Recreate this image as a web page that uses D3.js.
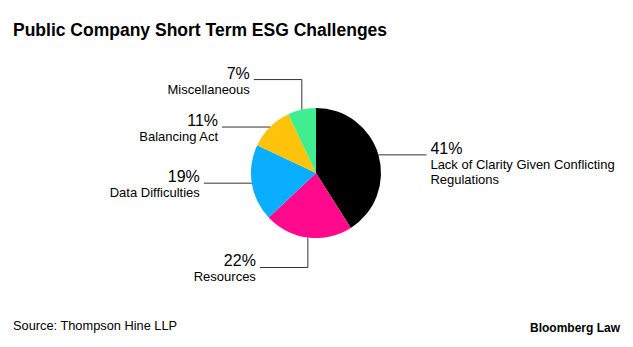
<!DOCTYPE html>
<html>
<head>
<meta charset="utf-8">
<script src="https://cdn.jsdelivr.net/npm/d3@7"></script>
<style>
  body { margin: 0; background: #fff; }
  text { font-family: "Liberation Sans", Arial, sans-serif; fill: #000; }
</style>
</head>
<body>
<div id="chart"></div>
<script>
(function(){

var categories = ["Lack of Clarity Given Conflicting Regulations", "Resources", "Data Difficulties", "Balancing Act", "Miscellaneous"];
var values = [41, 22, 19, 11, 7];
var colors = ["#000000", "#ff0a8c", "#0aaeff", "#ffc30b", "#3fee8f"];

var width = 633, height = 347;
var cx = 316, cy = 173, radius = 65;
var lineLen = 48, vertLen = 30;

var svg = d3.select("#chart").append("svg")
    .attr("width", width)
    .attr("height", height);

svg.append("text")
    .attr("x", 13)
    .attr("y", 36)
    .style("font-size", "17.5px")
    .style("font-weight", "bold")
    .text("Public Company Short Term ESG Challenges");

var data = categories.map(function(c, i) { return {name: c, value: values[i], color: colors[i]}; });

var pie = d3.pie().sort(null).value(function(d) { return d.value; });
var arc = d3.arc().innerRadius(0).outerRadius(radius);

var g = svg.append("g").attr("transform", "translate(" + cx + "," + cy + ")");

var arcs = pie(data);

g.selectAll("path.slice")
    .data(arcs)
  .enter().append("path")
    .attr("class", "slice")
    .attr("d", arc)
    .style("fill", function(d) { return d.data.color; });

// leader lines + labels
arcs.forEach(function(d) {
  var mid = (d.startAngle + d.endAngle) / 2;
  var px = radius * Math.sin(mid), py = -radius * Math.cos(mid);
  var pts = [[px, py]];
  var ly = py;
  // slices near the top or bottom get a vertical stub first
  if (Math.abs(Math.cos(mid)) > 0.9) {
    ly = py + (py < 0 ? -vertLen : vertLen);
    pts.push([px, ly]);
  }
  var right = px > 0;
  var ex = right ? px + lineLen : px - lineLen;
  pts.push([ex, ly]);

  g.append("path")
      .attr("d", d3.line()(pts))
      .style("fill", "none")
      .style("stroke", "#333")
      .style("stroke-width", 1);

  var tx = right ? ex + 4 : ex - 4;
  var anchor = right ? "start" : "end";

  g.append("text")
      .attr("x", tx)
      .attr("y", ly - 1)
      .attr("text-anchor", anchor)
      .style("font-size", "16px")
      .text(d.data.value + "%");

  var lines = right ? ["Lack of Clarity Given Conflicting", "Regulations"] : [d.data.name];
  lines.forEach(function(t, i) {
    g.append("text")
        .attr("x", tx)
        .attr("y", ly + 14 + i * 15)
        .attr("text-anchor", anchor)
        .style("font-size", "13px")
        .text(t);
  });
});

svg.append("text")
    .attr("x", 13)
    .attr("y", 330)
    .style("font-size", "12.8px")
    .text("Source: Thompson Hine LLP");

svg.append("text")
    .attr("x", 620)
    .attr("y", 332)
    .attr("text-anchor", "end")
    .style("font-size", "12px")
    .style("font-weight", "bold")
    .text("Bloomberg Law");

})();
</script>
</body>
</html>
